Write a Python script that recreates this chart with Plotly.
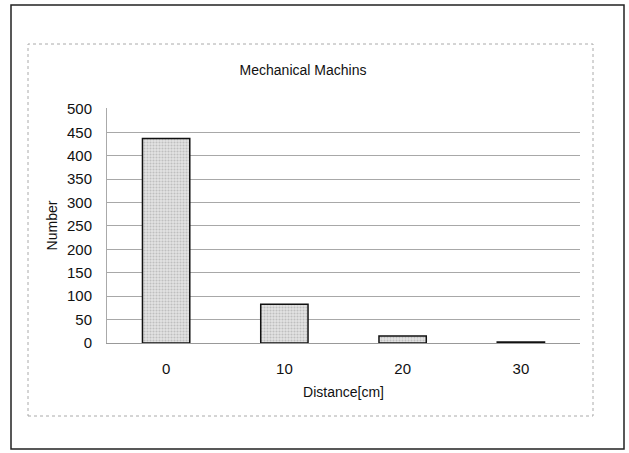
import plotly.graph_objects as go

# data
distance = ["0", "10", "20", "30"]
counts = [437, 83, 15, 2]
y_ticks = list(range(0, 501, 50))

FONT = "Liberation Sans, Arial, sans-serif"

W, H = 629, 453
L, R, T, B = 107, 49, 108, 110
pw, ph = W - L - R, H - T - B


def px2paper(x, y):
    return (x - L) / pw, 1 - (y - T) / ph


fig = go.Figure()
fig.add_trace(go.Bar(
    x=distance, y=counts,
    width=0.4,
    marker=dict(
        color="#dcdcdc",
        line=dict(color="#111", width=1.5),
        pattern=dict(shape=".", fgcolor="#999", bgcolor="#e4e4e4",
                     size=3, solidity=0.4),
    ),
    hovertemplate="%{x} cm: %{y}<extra></extra>",
))

# outer frame and inner dotted chart-area box
x0, y0 = px2paper(11, 5)
x1, y1 = px2paper(624, 449)
ix0, iy0 = px2paper(28, 44)
ix1, iy1 = px2paper(593, 416)
shapes = [
    dict(type="rect", xref="paper", yref="paper", x0=x0, y0=y1, x1=x1, y1=y0,
         line=dict(color="#222", width=1.5)),
    dict(type="rect", xref="paper", yref="paper", x0=ix0, y0=iy1, x1=ix1, y1=iy0,
         line=dict(color="#aaa", width=1, dash="dot")),
]

fig.update_layout(
    width=W, height=H,
    margin=dict(l=L, r=R, t=T, b=B),
    paper_bgcolor="white", plot_bgcolor="white",
    showlegend=False,
    font=dict(family=FONT, size=14, color="#111"),
    title=dict(text="Mechanical Machins", x=303 / W,
               xanchor="center", y=1 - 70 / H, yanchor="middle",
               font=dict(size=14, family=FONT, color="#111")),
    shapes=shapes,
)
fig.update_xaxes(
    type="category",
    showgrid=False,
    showline=True, linecolor="#999", linewidth=1,
    ticks="outside", ticklen=12, tickcolor="rgba(0,0,0,0)",
    tickfont=dict(size=15, family=FONT, color="#111"),
    title=dict(text="Distance[cm]", standoff=11,
               font=dict(size=14, family=FONT, color="#111")),
)
fig.update_yaxes(
    range=[0, 502],
    tickvals=y_ticks,
    showgrid=True, gridcolor="#a8a8a8", gridwidth=1,
    showline=True, linecolor="#aaa", linewidth=1,
    zeroline=False,
    ticks="outside", ticklen=11, tickcolor="rgba(0,0,0,0)",
    tickfont=dict(size=15, family=FONT, color="#111"),
    title=dict(text="Number", standoff=6,
               font=dict(size=14, family=FONT, color="#111")),
)

fig.write_html("out.html", config={"displayModeBar": False},
               post_script="document.body.style.margin='0';")
